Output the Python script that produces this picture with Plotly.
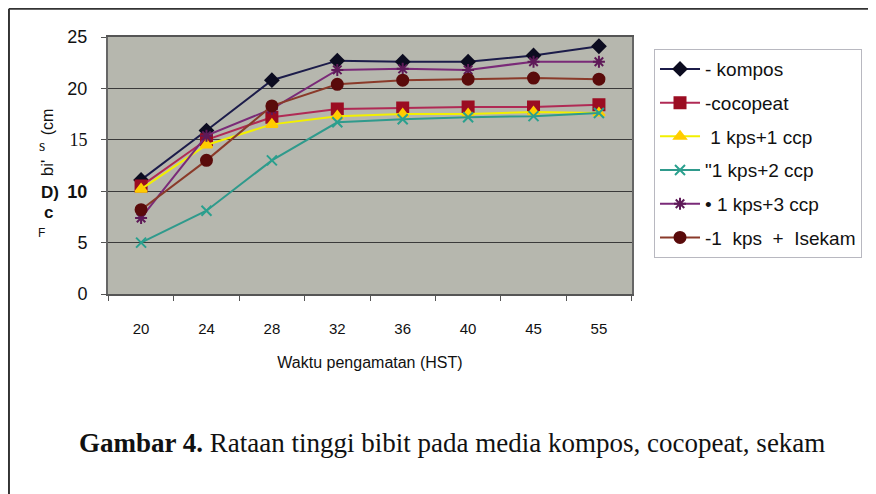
import plotly.graph_objects as go

days = ["20", "24", "28", "32", "36", "40", "45", "55"]
kompos = [11.1, 15.9, 20.8, 22.7, 22.6, 22.6, 23.2, 24.1]
cocopeat = [10.5, 15.0, 17.2, 18.0, 18.1, 18.2, 18.2, 18.4]
kps1ccp1 = [10.2, 14.5, 16.5, 17.3, 17.5, 17.5, 17.7, 17.6]
kps1ccp2 = [5.0, 8.1, 13.0, 16.7, 17.0, 17.2, 17.3, 17.6]
kps1ccp3 = [7.4, 15.4, 18.0, 21.8, 21.9, 21.8, 22.6, 22.6]
kps1sekam = [8.2, 13.0, 18.3, 20.4, 20.8, 20.9, 21.0, 20.9]

NB = "\u00a0"
names = ["- kompos", "-cocopeat", NB + "1 kps+1 ccp", "\"1 kps+2 ccp", "• 1 kps+3 ccp",
         "-1" + NB + " kps" + NB + " +" + NB + " Isekam"]
series = [kompos, cocopeat, kps1ccp1, kps1ccp2, kps1ccp3, kps1sekam]
line_colors = ["#1c1c4a", "#b02a55", "#f2f000", "#2f9a8c", "#7a2a78", "#8a3a2a"]
marker_colors = ["#0c0c20", "#9b0d22", "#ffcc00", "#2aa08e", "#5e1a58", "#5a0b0b"]
symbols = ["diamond", "square", "triangle-up", "x-thin", "asterisk-open", "circle"]
sizes = [10, 11, 10, 10, 10, 11]

ytickvals = [0, 5, 10, 15, 20, 25]
yticktext = ["0", "5", "<b>10</b>", "<span style='font-family:Liberation Serif'>15</span>", "20", "25"]

fig = go.Figure()
for i, (nm, ys) in enumerate(zip(names, series)):
    fig.add_trace(go.Scatter(
        x=days, y=ys, name=nm, mode="lines+markers",
        legendgroup=str(i),
        line=dict(color=line_colors[i], width=2),
        marker=dict(symbol=symbols[i], size=sizes[i], color=marker_colors[i],
                    line=dict(color=marker_colors[i], width=2)),
    ))

fig.update_layout(
    width=876, height=494,
    margin=dict(l=100, r=252, t=29, b=208, autoexpand=False),
    paper_bgcolor="white",
    plot_bgcolor="#b6b7ae",
    font=dict(family="Liberation Sans, Arial", color="#111"),
    showlegend=True,
    legend=dict(
        x=1.042, y=0.953, xanchor="left", yanchor="top",
        bgcolor="white", bordercolor="#b8b8c0", borderwidth=1,
        font=dict(size=19, color="#111"),
        tracegroupgap=6, itemwidth=40,
    ),
    xaxis=dict(
        type="category", tickson="boundaries", ticks="outside", ticklen=5,
        tickcolor="#555", showline=True, linecolor="#555", linewidth=2, mirror=True,
        showgrid=False, tickfont=dict(size=15, family="Liberation Sans Narrow, Liberation Sans"),
        ticklabelstandoff=20, automargin=False,
        title=dict(text="Waktu pengamatan (HST)", font=dict(size=16, family="Liberation Sans Narrow, Liberation Sans"), standoff=21),
    ),
    yaxis=dict(
        range=[0, 25], tickvals=ytickvals, ticktext=yticktext,
        ticks="outside", ticklen=5, tickcolor="#555",
        showline=True, linecolor="#666", linewidth=2, mirror=True,
        showgrid=True, gridcolor="#3a3a3a", gridwidth=1,
        tickfont=dict(size=18), ticklabelstandoff=10, automargin=False,
        zeroline=False,
    ),
)

# garbled y-axis title fragments
frags = [
    dict(text="(cm", x=-0.116, y=0.669, textangle=-90, font=dict(size=16)),
    dict(text="s", x=-0.126, y=0.576, textangle=0, font=dict(size=16, family="Liberation Serif")),
    dict(text="bi'", x=-0.116, y=0.49, textangle=-90, font=dict(size=17)),
    dict(text="<b>D)</b>", x=-0.111, y=0.393, textangle=0, font=dict(size=17)),
    dict(text="<b>c</b>", x=-0.1145, y=0.318, textangle=0, font=dict(size=17)),
    dict(text="F", x=-0.126, y=0.237, textangle=0, font=dict(size=12)),
]
for f in frags:
    fig.add_annotation(xref="paper", yref="paper", showarrow=False,
                       xanchor="center", yanchor="middle", **f)

# caption
fig.add_annotation(
    xref="paper", yref="paper", x=-0.06, y=-0.58, xanchor="left", yanchor="middle",
    showarrow=False,
    text="<b>Gambar 4.</b> Rataan tinggi bibit pada media kompos, cocopeat, sekam",
    font=dict(size=27, family="Liberation Serif", color="#111"),
)

# page border lines
fig.add_shape(type="line", xref="paper", yref="paper", x0=-0.189, x1=1.5, y0=1.11, y1=1.11,
              line=dict(color="#333", width=2))
fig.add_shape(type="line", xref="paper", yref="paper", x0=-0.189, x1=-0.189, y0=1.11, y1=-0.85,
              line=dict(color="#333", width=2))

fig.write_html("out.html")
